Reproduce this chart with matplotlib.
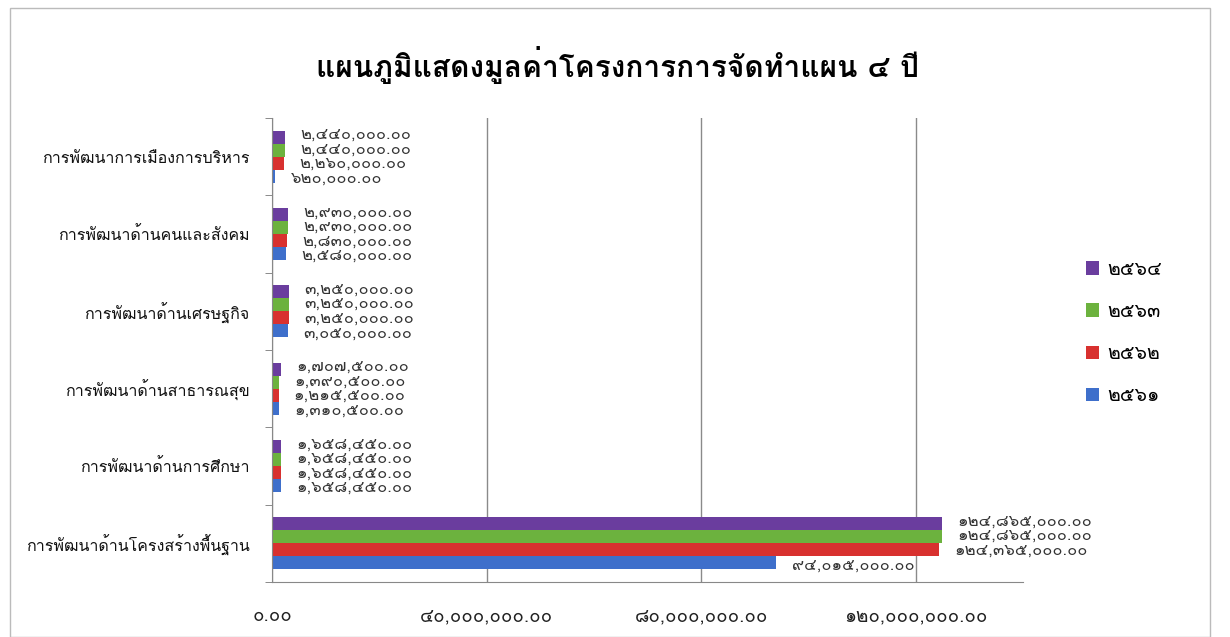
import numpy as np
import matplotlib
matplotlib.use("Agg")
import matplotlib.pyplot as plt
from matplotlib import font_manager
from matplotlib.ft2font import FT2Font
from matplotlib.patches import Rectangle, Patch

# find a font that can draw Thai
thai_font = None
for f in font_manager.fontManager.ttflist:
    try:
        if 0x0E01 in FT2Font(f.fname).get_charmap() and 0x0E52 in FT2Font(f.fname).get_charmap():
            thai_font = f.name
            break
    except Exception:
        pass
families = [thai_font, "DejaVu Sans"] if thai_font else ["DejaVu Sans"]
plt.rcParams['font.family'] = families

title = "แผนภูมิแสดงมูลค่าโครงการการจัดทำแผน ๔ ปี"
categories = ["การพัฒนาการเมืองการบริหาร", "การพัฒนาด้านคนและสังคม", "การพัฒนาด้านเศรษฐกิจ",
              "การพัฒนาด้านสาธารณสุข", "การพัฒนาด้านการศึกษา", "การพัฒนาด้านโครงสร้างพื้นฐาน"]
years = ["๒๕๖๔", "๒๕๖๓", "๒๕๖๒", "๒๕๖๑"]
v2564 = [2440000, 2930000, 3250000, 1707500, 1658450, 124865000]
v2563 = [2440000, 2930000, 3250000, 1390500, 1658450, 124865000]
v2562 = [2260000, 2830000, 3250000, 1215500, 1658450, 124365000]
v2561 = [620000, 2580000, 3050000, 1310500, 1658450, 94015000]
series = [v2564, v2563, v2562, v2561]
colors = ["#6a3d9e", "#6cb23e", "#d8312f", "#3e6fcb"]
xticks = [0, 40000000, 80000000, 120000000]

thai_digits = str.maketrans("0123456789", "๐๑๒๓๔๕๖๗๘๙")
def thai(v):
    return "{:,.2f}".format(v).translate(thai_digits)

fig = plt.figure(figsize=(12.3, 6.37), dpi=100)
ax = fig.add_axes([272/1230, 1 - 582/637, (1023-272)/1230, (582-118)/637])

n = len(categories)
y = np.arange(n)[::-1]
h = 0.168
for i, (vals, c) in enumerate(zip(series, colors)):
    pos = y + (1.5 - i) * h
    ax.barh(pos, vals, height=h, color=c, edgecolor="none")
    # labels spread a little wider than the bars, as in the source chart
    lpos = y + (1.5 - i) * h * 1.12
    for p, v in zip(lpos, vals):
        ax.annotate(thai(v), (v, p), xytext=(11, 0), textcoords="offset points",
                    va="center", ha="left", fontsize=12, color="#333333")

ax.set_xlim(0, 140000000)
ax.set_ylim(-0.5, n - 0.5)
ax.set_xticks(xticks)
ax.set_xticklabels([thai(v) for v in xticks], fontsize=13.5, color="#222222")
ax.tick_params(axis="x", length=0, pad=18)
ax.set_yticks(y)
ax.set_yticklabels(categories, fontsize=11.5, color="#111111")
ax.tick_params(axis="y", length=0, pad=16)
ax.set_yticks(np.arange(n + 1) - 0.5, minor=True)
ax.tick_params(axis="y", which="minor", length=5, color="#777777")
ax.grid(axis="x", color="#8a8a8a", linewidth=1)
ax.set_axisbelow(True)
for s in ["top", "right"]:
    ax.spines[s].set_visible(False)
ax.spines["left"].set_color("#888888")
ax.spines["bottom"].set_color("#888888")

fig.text(617/1230, 1 - 65/637, title, ha="center", va="center", fontsize=21.5, fontweight="bold")

handles = [Patch(facecolor=c, edgecolor="none") for c in colors]
fig.legend(handles, years, loc="center left", bbox_to_anchor=(1068/1230, 1 - 333/637),
           frameon=False, fontsize=14, labelspacing=1.25, handlelength=0.7, handleheight=0.7,
           handletextpad=0.4)

fig.patches.append(Rectangle((10/1230, 0), 1200/1230, 1 - 8/637, transform=fig.transFigure,
                             fill=False, edgecolor="#bbbbbb", linewidth=1))

fig.savefig("out.png", dpi=100, facecolor="white")
